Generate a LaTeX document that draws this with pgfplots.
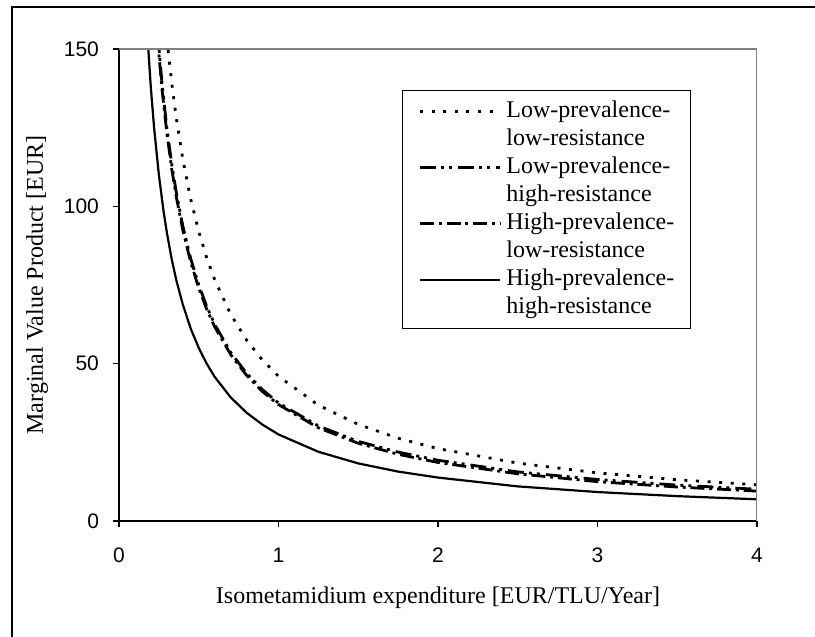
\documentclass[border=0pt]{standalone}
\usepackage{fontspec}
\setmainfont{Liberation Serif}
\newfontfamily\arialfont{Liberation Sans}
\usepackage{pgfplots}
\pgfplotsset{compat=1.18}

\begin{document}
\begin{tikzpicture}
\begin{axis}[
    at={(0,0)}, anchor=south west,
    scale only axis, width=319pt, height=236pt,
    xmin=0, xmax=4, ymin=0, ymax=150,
    xtick={0,1,2,3,4}, ytick={0,50,100,150},
    axis x line*=bottom, axis y line*=left,
    axis line style={line width=0.6pt},
    tick align=outside, major tick length=3pt,
    tick style={black, line width=0.6pt},
    ticklabel style={font=\arialfont\fontsize{10.5}{12}\selectfont},
    xticklabel style={yshift=-7pt},
    yticklabel style={xshift=-3.5pt},
    /pgf/number format/assume math mode=true,
    xlabel={Isometamidium expenditure [EUR/TLU/Year]},
    ylabel={Marginal Value Product [EUR]},
    label style={font=\fontsize{12}{14}\selectfont},
    xlabel style={at={(axis description cs:0.5,-0.1631)}, anchor=center},
    ylabel style={at={(axis description cs:-0.1285,0.5)}, anchor=center},
    legend cell align=left,
    legend style={at={(0.4436,0.913)}, anchor=north west, draw=black,
      line width=0.6pt, fill=white, inner xsep=8pt, inner ysep=3.5pt,
      row sep=0pt, column sep=2.5pt, cells={anchor=west},
      nodes={inner sep=0pt, text height=10pt, text depth=4pt,
        font=\fontsize{12}{14}\selectfont, align=left}},
    legend image code/.code={\draw[#1] (0pt,0pt) -- (40pt,0pt);},
  ]

  % low prevalence, low resistance
  \addplot[black, line width=1.4pt, dash pattern=on 1.5pt off 4.3pt] coordinates {
    (0.3,153.3) (0.33,139.4) (0.36,127.8) (0.4,115) (0.45,102.2) (0.5,92)
    (0.55,83.6) (0.6,76.7) (0.7,65.7) (0.8,57.5) (0.9,51.1) (1,46)
    (1.25,36.8) (1.5,30.7) (1.75,26.3) (2,23) (2.5,18.4) (3,15.3)
    (3.5,13.1) (4,11.5)
  };
  \addlegendentry{Low-prevalence-}
  \addlegendimage{empty legend}
  \addlegendentry{low-resistance}

  % low prevalence, high resistance
  \addplot[black, line width=1.4pt,
    dash pattern=on 8pt off 2.5pt on 1.5pt off 2.5pt on 1.5pt off 3pt] coordinates {
    (0.24,156.3) (0.27,138.9) (0.3,125) (0.33,113.6) (0.36,104.2) (0.4,93.8)
    (0.45,83.3) (0.5,75) (0.55,68.2) (0.6,62.5) (0.7,53.6) (0.8,46.9)
    (0.9,41.7) (1,37.5) (1.25,30.2) (1.5,25.3) (1.75,21.9) (2,19.3)
    (2.5,15.6) (3,13.2) (3.5,11.4) (4,10.1)
  };
  \addlegendentry{Low-prevalence-}
  \addlegendimage{empty legend}
  \addlegendentry{high-resistance}

  % high prevalence, low resistance
  \addplot[black, line width=1.4pt,
    dash pattern=on 7pt off 2.4pt on 1.5pt off 2.4pt] coordinates {
    (0.24,154.2) (0.27,137) (0.3,123.3) (0.33,112.1) (0.36,102.8) (0.4,92.5)
    (0.45,82.2) (0.5,74) (0.55,67.3) (0.6,61.7) (0.7,52.9) (0.8,46.3)
    (0.9,41.1) (1,37) (1.25,29.6) (1.5,24.7) (1.75,21.2) (2,18.6)
    (2.5,15) (3,12.5) (3.5,10.8) (4,9.5)
  };
  \addlegendentry{High-prevalence-}
  \addlegendimage{empty legend}
  \addlegendentry{low-resistance}

  % high prevalence, high resistance
  \addplot[black, line width=1.1pt] coordinates {
    (0.18,152.8) (0.2,137.5) (0.22,125) (0.25,110) (0.28,98.2) (0.3,91.7)
    (0.33,83.3) (0.36,76.4) (0.4,68.8) (0.45,61.1) (0.5,55) (0.55,50)
    (0.6,45.8) (0.7,39.3) (0.8,34.4) (0.9,30.6) (1,27.5) (1.25,22)
    (1.5,18.3) (1.75,15.7) (2,13.8) (2.5,11) (3,9.2) (3.5,7.9) (4,6.9)
  };
  \addlegendentry{High-prevalence-}
  \addlegendimage{empty legend}
  \addlegendentry{high-resistance}

  \draw[gray, line width=0.75pt] (rel axis cs:0,1) -- (rel axis cs:1,1) -- (rel axis cs:1,0);
\end{axis}
\draw[line width=0.6pt] (-53.5pt,-70pt) -- (-53.5pt,257pt) -- (360pt,257pt);
\pgfresetboundingbox
\path[use as bounding box] (-59.5pt,-58pt) rectangle (348pt,260.5pt);
\end{tikzpicture}
\end{document}
